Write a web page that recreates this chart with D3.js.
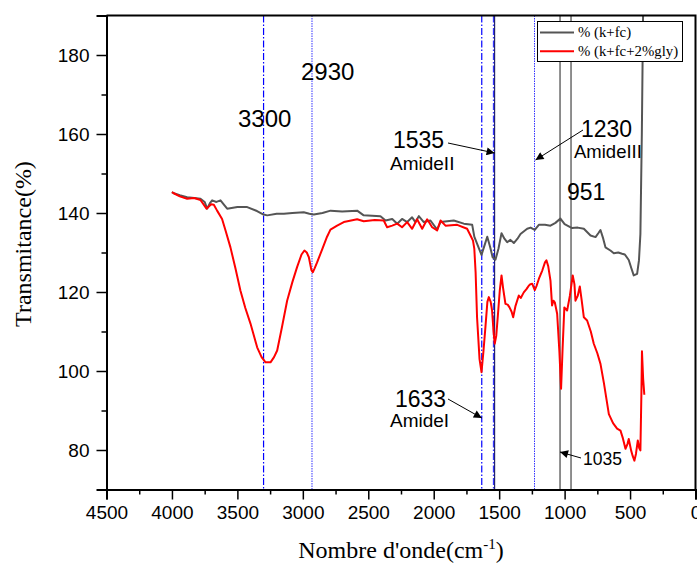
<!DOCTYPE html>
<html>
<head>
<meta charset="utf-8">
<script src="https://cdn.jsdelivr.net/npm/d3@7"></script>
<style>
  body { margin: 0; background: #fff; }
  svg { display: block; }
</style>
</head>
<body>
<svg id="chart" width="697" height="567"></svg>
<script>
// spectre FTIR, valeurs
var xTicks = [4500, 4000, 3500, 3000, 2500, 2000, 1500, 1000, 500, 0];
var yTicks = [80, 100, 120, 140, 160, 180];

var kfcWave = [4000, 3986, 3940, 3884, 3830, 3782, 3750, 3731, 3710, 3693, 3660, 3629, 3600, 3578, 3500, 3425, 3350, 3300, 3272, 3200, 3145, 3080, 2993, 2950, 2916, 2850, 2788, 2700, 2585, 2535, 2407, 2368, 2317, 2279, 2242, 2203, 2165, 2140, 2114, 2076, 2025, 1974, 1948, 1847, 1770, 1706, 1690, 1660, 1635, 1610, 1591, 1570, 1550, 1528, 1505, 1482, 1460, 1439, 1414, 1388, 1360, 1337, 1286, 1260, 1228, 1197, 1150, 1108, 1070, 1032, 1000, 943, 900, 853, 802, 764, 740, 726, 705, 688, 650, 624, 590, 561, 540, 510, 490, 472, 446, 432, 421, 410, 400];
var kfcT = [145.3, 145.0, 144.5, 144.0, 143.8, 143.6, 142.8, 141.1, 142.5, 143.2, 142.8, 143.2, 142.0, 141.1, 141.5, 141.5, 140.5, 139.6, 139.4, 139.8, 139.8, 140.0, 140.2, 139.8, 139.6, 140.0, 140.6, 140.4, 140.6, 139.4, 139.2, 138.1, 138.5, 137.3, 138.5, 137.7, 138.9, 137.7, 139.2, 137.7, 138.1, 135.8, 137.7, 138.1, 137.3, 137.0, 134.0, 131.5, 129.4, 132.0, 134.0, 131.5, 128.8, 128.2, 131.0, 134.9, 133.5, 132.6, 133.2, 132.4, 133.5, 134.7, 136.0, 136.3, 135.7, 137.0, 137.0, 136.8, 137.5, 138.6, 137.2, 136.2, 136.3, 136.0, 134.3, 133.9, 135.0, 135.7, 133.5, 131.3, 130.5, 129.8, 130.0, 129.7, 129.5, 128.1, 126.0, 124.2, 124.6, 128.0, 134.7, 160.0, 192.0];

var glyWave = [4000, 3986, 3940, 3884, 3830, 3782, 3736, 3700, 3680, 3655, 3617, 3590, 3553, 3515, 3477, 3440, 3400, 3370, 3349, 3315, 3285, 3247, 3220, 3196, 3160, 3120, 3080, 3044, 3010, 2988, 2970, 2954, 2935, 2924, 2910, 2891, 2850, 2815, 2789, 2738, 2687, 2585, 2535, 2450, 2382, 2356, 2317, 2279, 2242, 2203, 2165, 2127, 2088, 2050, 2012, 1974, 1948, 1910, 1821, 1745, 1719, 1700, 1690, 1680, 1669, 1650, 1635, 1620, 1605, 1590, 1579, 1565, 1554, 1543, 1534, 1522, 1511, 1495, 1482, 1470, 1452, 1435, 1421, 1405, 1393, 1375, 1350, 1335, 1312, 1290, 1274, 1260, 1248, 1228, 1215, 1197, 1170, 1150, 1139, 1125, 1108, 1096, 1085, 1075, 1057, 1040, 1027, 1015, 1002, 981, 960, 938, 925, 917, 900, 884, 870, 853, 828, 800, 777, 750, 726, 700, 662, 630, 599, 573, 555, 535, 520, 510, 492, 480, 467, 455, 441, 430, 421, 413, 409, 400, 391];
var glyT = [145.3, 145.0, 144.2, 143.6, 143.8, 143.3, 141.1, 142.2, 142.1, 140.6, 138.5, 135.5, 131.3, 126.0, 120.4, 116.0, 112.0, 108.5, 106.0, 103.5, 102.2, 102.2, 103.5, 105.2, 111.0, 117.8, 122.5, 126.3, 129.5, 130.5, 130.0, 128.8, 125.6, 125.0, 126.0, 127.5, 131.0, 134.0, 135.8, 136.8, 137.7, 138.4, 137.9, 138.2, 138.1, 136.4, 136.8, 137.3, 136.4, 137.7, 136.0, 138.4, 136.0, 138.4, 136.4, 135.6, 138.1, 136.8, 137.0, 136.0, 134.3, 133.0, 131.0, 125.0, 113.6, 103.0, 99.7, 105.0, 111.1, 117.5, 118.7, 117.5, 115.3, 110.0, 106.9, 109.0, 113.6, 120.5, 124.2, 121.0, 117.0, 116.8, 116.1, 115.0, 113.6, 116.5, 119.1, 118.5, 119.9, 120.8, 121.6, 122.0, 122.1, 120.5, 121.5, 123.3, 125.5, 127.5, 128.0, 126.5, 122.9, 116.6, 117.8, 117.4, 114.5, 105.0, 95.5, 106.0, 116.1, 115.3, 119.0, 124.2, 122.0, 117.8, 119.0, 121.4, 118.0, 113.6, 112.8, 110.0, 106.9, 104.5, 101.8, 97.0, 89.1, 86.8, 85.4, 84.9, 83.0, 80.3, 81.5, 82.8, 79.9, 78.5, 77.3, 79.0, 82.4, 80.5, 79.9, 95.0, 105.0, 98.0, 94.0];

var seriesNames = ["% (k+fc)", "% (k+fc+2%gly)"];
var seriesColors = ["#555555", "#ff0000"];

// traits verticaux des bandes
var bandWave = [3300, 2930, 1633, 1535, 1230, 1035, 951];
var bandKind = ["dashdot", "dot", "dashdot", "solid", "dot", "gray", "gray"];

var svg = d3.select("#chart");
var L = 106.5, R = 695.5, T = 15.5, B = 489.5;

var x = d3.scaleLinear().domain([4500, 0]).range([L, R]);
var y = d3.scaleLinear().domain([70, 190]).range([B, T]);

svg.append("defs").append("clipPath").attr("id", "clip")
  .append("rect").attr("x", L).attr("y", T).attr("width", R - L).attr("height", B - T);

svg.append("defs").append("marker").attr("id", "arrow")
  .attr("viewBox", "0 0 10 10").attr("refX", 10).attr("refY", 5)
  .attr("markerWidth", 12).attr("markerHeight", 8).attr("markerUnits", "userSpaceOnUse")
  .attr("orient", "auto")
  .append("path").attr("d", "M0,0 L10,5 L0,10 z").attr("fill", "#000");

// bandes
var bands = svg.append("g").attr("clip-path", "url(#clip)");
bandWave.forEach(function(w, i) {
  var k = bandKind[i];
  var ln = bands.append("line")
    .attr("x1", x(w)).attr("x2", x(w)).attr("y1", T).attr("y2", B);
  if (k == "dashdot") ln.attr("stroke", "#0000ff").attr("stroke-width", 1.2).attr("stroke-dasharray", "7,2,1.5,2");
  if (k == "dot") ln.attr("stroke", "#3333ff").attr("stroke-width", 1).attr("stroke-dasharray", "1.5,1");
  if (k == "solid") {
    ln.attr("stroke", "#22226e").attr("stroke-width", 1.2);
    bands.append("line").attr("x1", x(w) - 1.2).attr("x2", x(w) - 1.2).attr("y1", T).attr("y2", B)
      .attr("stroke", "#0000ff").attr("stroke-width", 0.9).attr("stroke-dasharray", "7,2,1.5,2");
  }
  if (k == "gray") ln.attr("stroke", "#444").attr("stroke-width", 1.2);
});

// courbes
var line = d3.line().x(function(d) { return x(d[0]); }).y(function(d) { return y(d[1]); });
var curves = svg.append("g").attr("clip-path", "url(#clip)");
curves.append("path").datum(d3.zip(kfcWave, kfcT)).attr("d", line)
  .attr("fill", "none").attr("stroke", seriesColors[0]).attr("stroke-width", 2).attr("stroke-linejoin", "round");
curves.append("path").datum(d3.zip(glyWave, glyT)).attr("d", line)
  .attr("fill", "none").attr("stroke", seriesColors[1]).attr("stroke-width", 2).attr("stroke-linejoin", "round");

// axes
svg.append("g").attr("transform", "translate(0," + B + ")")
  .call(d3.axisBottom(x).tickValues(xTicks).tickSize(10).tickPadding(6).tickFormat(d3.format("d")));
svg.append("g").attr("transform", "translate(0," + B + ")")
  .call(d3.axisBottom(x).tickValues(d3.range(4250, 0, -500)).tickSize(5).tickFormat(""))
  .select(".domain").remove();
svg.append("g").attr("transform", "translate(" + L + ",0)")
  .call(d3.axisLeft(y).tickValues(yTicks).tickSize(10).tickPadding(7));
svg.append("g").attr("transform", "translate(" + L + ",0)")
  .call(d3.axisLeft(y).tickValues([90, 110, 130, 150, 170]).tickSize(5).tickFormat(""))
  .select(".domain").remove();

svg.selectAll(".tick line").attr("stroke", "#000").attr("stroke-width", 1.5);
svg.selectAll(".domain").attr("stroke", "#000").attr("stroke-width", 2);
svg.selectAll(".tick text").attr("font-family", "Liberation Sans, Arial, sans-serif")
  .attr("font-size", 19).attr("fill", "#000");

// cadre haut et droite
svg.append("path").attr("d", "M" + L + "," + T + "H" + R + "V" + B)
  .attr("fill", "none").attr("stroke", "#000").attr("stroke-width", 2);

// titres
svg.append("text").attr("x", 401).attr("y", 558).attr("text-anchor", "middle")
  .attr("font-family", "Liberation Serif, Times New Roman, serif").attr("font-size", 24)
  .html("Nombre d'onde(cm<tspan dy='-9' font-size='15'>-1</tspan><tspan dy='9'>)</tspan>");
svg.append("text").attr("transform", "translate(31,244) rotate(-90)").attr("text-anchor", "middle")
  .attr("font-family", "Liberation Serif, Times New Roman, serif").attr("font-size", 24)
  .text("Transmitance(%)");

// annotations
var sans = "Liberation Sans, Arial, sans-serif";
function label(t, px, py, size) {
  svg.append("text").attr("x", px).attr("y", py).attr("font-family", sans)
    .attr("font-size", size).attr("fill", "#000").text(t);
}
function arrow(x1, y1, x2, y2) {
  svg.append("line").attr("x1", x1).attr("y1", y1).attr("x2", x2).attr("y2", y2)
    .attr("stroke", "#000").attr("stroke-width", 1).attr("marker-end", "url(#arrow)");
}
label("3300", 238, 127, 24);
label("2930", 301, 80, 24);
label("1535", 393, 148, 23);
label("AmideII", 390, 170, 19);
arrow(448, 143, x(1535), 153);
label("1230", 581, 137, 23);
label("AmideIII", 574, 157.5, 18.5);
arrow(583, 130, x(1230) + 1, 160);
label("951", 567, 200, 23);
label("1633", 395, 407, 23);
label("AmideI", 390, 427, 19);
arrow(448, 399, x(1633), 418);
label("1035", 583, 465, 17.5);
arrow(581, 458, x(1035), 452);

// legende
var leg = svg.append("g");
leg.append("rect").attr("x", 537.5).attr("y", 21.5).attr("width", 145).attr("height", 40)
  .attr("fill", "#fff").attr("stroke", "#000").attr("stroke-width", 1);
seriesNames.forEach(function(n, i) {
  var ly = 32.5 + i * 18.8;
  leg.append("line").attr("x1", 540).attr("x2", 574).attr("y1", ly).attr("y2", ly)
    .attr("stroke", seriesColors[i]).attr("stroke-width", 2);
  leg.append("text").attr("x", 578).attr("y", ly + 4.5)
    .attr("font-family", "Liberation Serif, Times New Roman, serif").attr("font-size", 14.8)
    .text(n);
});
</script>
</body>
</html>
